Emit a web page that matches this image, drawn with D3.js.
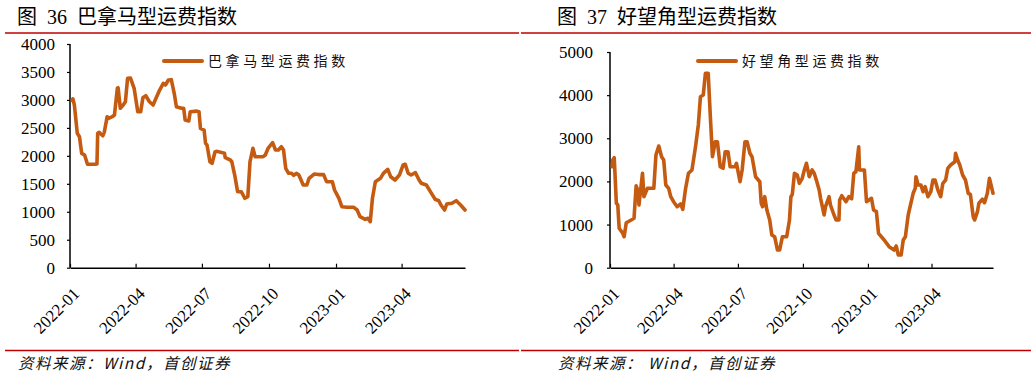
<!DOCTYPE html>
<html><head><meta charset="utf-8">
<script src="https://cdn.jsdelivr.net/npm/d3@7"></script>
<style>
body{margin:0;background:#fff;}
svg{display:block;}
</style></head>
<body>
<svg id="c" width="1036" height="379"></svg>
<script>
// ---- data ----
const xTickLabels = ["2022-01","2022-04","2022-07","2022-10","2023-01","2023-04"];
const bpiTicks = [0,500,1000,1500,2000,2500,3000,3500,4000];
const bciTicks = [0,1000,2000,3000,4000,5000];
const bpiName = "巴拿马型运费指数";
const bciName = "好望角型运费指数";

const bpiDates = ["2022-01-04","2022-01-05","2022-01-07","2022-01-11","2022-01-14","2022-01-17","2022-01-21","2022-01-25","2022-02-04","2022-02-07","2022-02-08","2022-02-10","2022-02-15","2022-02-17","2022-02-21","2022-02-23","2022-02-28","2022-03-03","2022-03-07","2022-03-08","2022-03-11","2022-03-15","2022-03-18","2022-03-21","2022-03-25","2022-03-30","2022-04-04","2022-04-08","2022-04-11","2022-04-15","2022-04-20","2022-04-25","2022-04-29","2022-05-04","2022-05-09","2022-05-12","2022-05-16","2022-05-20","2022-05-24","2022-05-27","2022-06-03","2022-06-06","2022-06-08","2022-06-13","2022-06-15","2022-06-24","2022-06-27","2022-06-29","2022-07-04","2022-07-06","2022-07-08","2022-07-12","2022-07-15","2022-07-19","2022-07-22","2022-08-01","2022-08-02","2022-08-09","2022-08-11","2022-08-15","2022-08-19","2022-08-24","2022-08-29","2022-09-02","2022-09-05","2022-09-09","2022-09-12","2022-09-16","2022-09-23","2022-09-26","2022-09-30","2022-10-06","2022-10-10","2022-10-14","2022-10-18","2022-10-21","2022-10-24","2022-10-28","2022-11-01","2022-11-04","2022-11-08","2022-11-11","2022-11-17","2022-11-22","2022-11-25","2022-12-02","2022-12-08","2022-12-15","2022-12-19","2022-12-27","2022-12-30","2023-01-05","2023-01-09","2023-01-16","2023-01-25","2023-01-30","2023-02-03","2023-02-10","2023-02-14","2023-02-17","2023-02-20","2023-02-24","2023-03-03","2023-03-07","2023-03-13","2023-03-17","2023-03-23","2023-03-29","2023-04-03","2023-04-06","2023-04-10","2023-04-14","2023-04-20","2023-04-25","2023-04-28","2023-05-05","2023-05-12","2023-05-17","2023-05-22","2023-05-25","2023-05-30","2023-06-02","2023-06-09","2023-06-15","2023-06-21","2023-06-27"];
const bpiValues = [2990,3020,2909,2403,2342,2045,2015,1849,1850,1855,2403,2420,2360,2420,2700,2671,2700,2730,3208,3218,2850,2909,2968,3386,3390,3208,2789,2789,3040,3075,2968,2909,3029,3177,3297,3267,3356,3362,3118,2879,2850,2850,2641,2623,2789,2800,2789,2492,2462,2224,2194,1895,1866,2074,2080,2045,1967,1926,1895,1657,1359,1359,1241,1270,1895,2135,1985,1985,1985,2015,2140,2235,2104,2104,2163,2104,1777,1688,1688,1652,1688,1657,1479,1479,1598,1675,1665,1665,1538,1538,1389,1241,1091,1082,1082,1032,912,865,883,822,1241,1538,1598,1688,1759,1627,1568,1657,1836,1850,1688,1657,1699,1568,1509,1479,1330,1223,1198,1121,1032,1139,1151,1198,1121,1032];

const bciDates = ["2022-01-04","2022-01-05","2022-01-07","2022-01-10","2022-01-12","2022-01-14","2022-01-19","2022-01-21","2022-01-24","2022-01-31","2022-02-04","2022-02-07","2022-02-10","2022-02-11","2022-02-16","2022-02-18","2022-02-23","2022-02-28","2022-03-04","2022-03-07","2022-03-11","2022-03-15","2022-03-18","2022-03-21","2022-03-25","2022-03-28","2022-04-01","2022-04-06","2022-04-11","2022-04-14","2022-04-18","2022-04-22","2022-04-27","2022-05-02","2022-05-06","2022-05-09","2022-05-13","2022-05-16","2022-05-20","2022-05-23","2022-05-26","2022-05-30","2022-06-02","2022-06-06","2022-06-10","2022-06-13","2022-06-17","2022-06-20","2022-06-27","2022-06-29","2022-07-04","2022-07-07","2022-07-11","2022-07-14","2022-07-18","2022-07-21","2022-07-26","2022-08-01","2022-08-03","2022-08-05","2022-08-08","2022-08-11","2022-08-15","2022-08-18","2022-08-22","2022-08-26","2022-08-29","2022-09-02","2022-09-08","2022-09-12","2022-09-14","2022-09-16","2022-09-19","2022-09-23","2022-09-26","2022-09-30","2022-10-03","2022-10-06","2022-10-10","2022-10-14","2022-10-17","2022-10-20","2022-10-24","2022-10-26","2022-10-31","2022-11-02","2022-11-07","2022-11-09","2022-11-14","2022-11-17","2022-11-21","2022-11-22","2022-11-25","2022-12-01","2022-12-05","2022-12-09","2022-12-12","2022-12-15","2022-12-19","2022-12-20","2022-12-27","2022-12-30","2023-01-06","2023-01-09","2023-01-13","2023-01-16","2023-01-24","2023-01-31","2023-02-07","2023-02-10","2023-02-13","2023-02-17","2023-02-20","2023-02-23","2023-02-27","2023-03-06","2023-03-09","2023-03-10","2023-03-13","2023-03-17","2023-03-20","2023-03-23","2023-03-27","2023-03-31","2023-04-03","2023-04-06","2023-04-10","2023-04-14","2023-04-17","2023-04-21","2023-04-24","2023-04-28","2023-05-04","2023-05-05","2023-05-08","2023-05-11","2023-05-15","2023-05-19","2023-05-23","2023-05-26","2023-05-30","2023-06-01","2023-06-05","2023-06-07","2023-06-12","2023-06-15","2023-06-19","2023-06-22","2023-06-27"];
const bciValues = [2341,2497,2550,1493,1455,913,797,719,1043,1106,1145,1900,1762,1453,2188,1646,1840,1840,1840,2612,2821,2573,2497,1917,1840,1646,1530,1414,1476,1353,1840,2188,2265,2805,3308,3964,4003,4506,4506,3500,2573,2921,2921,2341,2304,2689,2689,2341,2341,2420,1993,2265,2921,2921,2652,2573,2109,1993,1493,1414,1646,1337,1106,758,719,410,410,719,719,1106,1646,1700,2188,2150,1956,2072,2265,2420,2109,2265,2188,2033,1801,1609,1222,1414,1646,1453,1222,1106,1106,1569,1669,1530,1646,1600,2188,2225,2805,2265,2265,1530,1609,1337,1300,797,642,487,410,503,294,294,642,719,1222,1725,1840,2109,1917,1917,1762,1878,1646,1762,2033,2033,1801,1646,1956,2033,2304,2381,2457,2652,2497,2381,2149,2033,1725,1700,1182,1106,1298,1493,1586,1507,1725,2072,1725];

// ---- drawing ----
const parse = d3.timeParse("%Y-%m-%d");
const parseM = d3.timeParse("%Y-%m");
const svg = d3.select("#c");
const RED = "#c00000";
const LINE = "#c55a11";
const CJK = "'Noto Sans CJK SC', sans-serif";
const SERIF = "'Liberation Serif', 'Times New Roman', serif";

function drawChart(o) {
  const g = svg.append("g");
  const x = d3.scaleTime()
    .domain([parse("2022-01-01"), parse(o.dates[o.dates.length - 1])])
    .range([o.left, o.right]);
  const y = d3.scaleLinear().domain([0, o.ticks[o.ticks.length - 1]]).range([o.bottom, o.top]);

  // title
  const t = g.append("text").attr("y", 24).attr("font-size", 20).attr("fill", "#000");
  t.append("tspan").attr("x", o.titleX).attr("font-family", CJK).text("图");
  t.append("tspan").attr("x", o.titleX + 30).attr("font-family", SERIF).text(o.num);
  t.append("tspan").attr("x", o.titleX + 60).attr("font-family", CJK).text(o.name);

  // red rules
  g.append("line").attr("x1", o.ruleX1).attr("x2", o.ruleX2).attr("y1", 33).attr("y2", 33)
    .attr("stroke", RED).attr("stroke-width", 1.5);
  g.append("line").attr("x1", o.ruleX1).attr("x2", o.ruleX2).attr("y1", 350.5).attr("y2", 350.5)
    .attr("stroke", RED).attr("stroke-width", 1.5);

  // y axis
  const ya = g.append("g").attr("transform", `translate(${o.left},0)`)
    .call(d3.axisLeft(y).tickValues(o.ticks).tickSize(3).tickPadding(o.yPad).tickFormat(d3.format("d")));
  ya.select(".domain").attr("stroke", "#000").attr("stroke-width", 1.5).attr("d", `M0,${o.bottom}V${o.top}`);
  ya.selectAll(".tick line").attr("stroke", "#000").attr("stroke-width", 1.2);
  ya.selectAll("text").attr("font-family", SERIF).attr("font-size", 17).attr("fill", "#000");

  // x axis
  const xa = g.append("g").attr("transform", `translate(0,${o.bottom})`)
    .call(d3.axisBottom(x).tickValues(xTickLabels.map(parseM)).tickSizeInner(-4).tickSizeOuter(0)
      .tickFormat(d3.timeFormat("%Y-%m")));
  xa.select(".domain").attr("stroke", "#000").attr("stroke-width", 1.5);
  xa.selectAll(".tick line").attr("stroke", "#000").attr("stroke-width", 1.2);
  xa.selectAll("text")
    .attr("font-family", SERIF).attr("font-size", 17).attr("fill", "#000")
    .attr("text-anchor", "end").attr("dy", 0).attr("y", 0)
    .attr("transform", "translate(10,27) rotate(-45)");

  // line
  const data = o.dates.map((d, i) => ({ d: parse(d), v: o.values[i] }));
  g.append("path").datum(data)
    .attr("fill", "none").attr("stroke", LINE).attr("stroke-width", 3.6)
    .attr("stroke-linejoin", "round").attr("stroke-linecap", "round")
    .attr("d", d3.line().x(p => x(p.d)).y(p => y(p.v)));

  // legend
  g.append("line").attr("x1", o.legX).attr("x2", o.legX + 38).attr("y1", 61).attr("y2", 61)
    .attr("stroke", LINE).attr("stroke-width", 4).attr("stroke-linecap", "round");
  g.append("text").attr("x", o.legX + 44).attr("y", 66).attr("font-family", CJK).attr("font-size", 14)
    .attr("letter-spacing", 3.6).attr("fill", "#111").text(o.name);

  // source
  g.append("text").attr("x", o.srcX).attr("y", 369).attr("font-family", CJK).attr("font-size", 15.5)
    .attr("font-style", "italic").attr("letter-spacing", 1.5).attr("fill", "#111").text(o.source);
}

drawChart({ dates: bpiDates, values: bpiValues, ticks: bpiTicks, name: bpiName, num: "36",
  left: 70, right: 465, top: 44, bottom: 267.7, titleX: 17, ruleX1: 5, ruleX2: 519,
  legX: 164, srcX: 18, yPad: 12, source: "资料来源：Wind，首创证券" });
drawChart({ dates: bciDates, values: bciValues, ticks: bciTicks, name: bciName, num: "37",
  left: 610, right: 993, top: 52, bottom: 267.7, titleX: 557, ruleX1: 521, ruleX2: 1031,
  legX: 698, srcX: 558, yPad: 14, source: "资料来源：  Wind，首创证券" });
</script>
</body></html>
